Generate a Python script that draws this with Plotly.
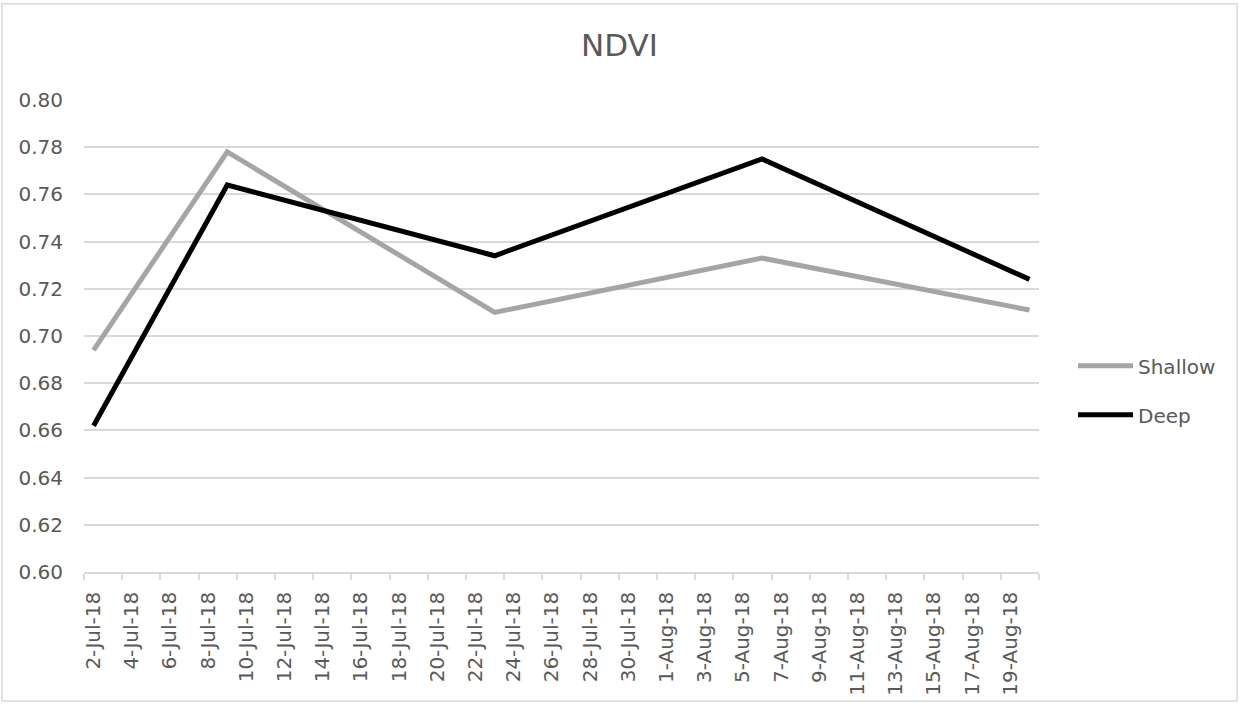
import plotly.graph_objects as go

# ---- data ----
dates = ["2018-07-02", "2018-07-09", "2018-07-23", "2018-08-06", "2018-08-20"]
shallow = [0.694, 0.778, 0.710, 0.733, 0.711]
deep = [0.662, 0.764, 0.734, 0.775, 0.724]

tick_dates = ["2018-07-02", "2018-07-04", "2018-07-06", "2018-07-08", "2018-07-10",
              "2018-07-12", "2018-07-14", "2018-07-16", "2018-07-18", "2018-07-20",
              "2018-07-22", "2018-07-24", "2018-07-26", "2018-07-28", "2018-07-30",
              "2018-08-01", "2018-08-03", "2018-08-05", "2018-08-07", "2018-08-09",
              "2018-08-11", "2018-08-13", "2018-08-15", "2018-08-17", "2018-08-19"]
tick_labels = ["2-Jul-18", "4-Jul-18", "6-Jul-18", "8-Jul-18", "10-Jul-18",
               "12-Jul-18", "14-Jul-18", "16-Jul-18", "18-Jul-18", "20-Jul-18",
               "22-Jul-18", "24-Jul-18", "26-Jul-18", "28-Jul-18", "30-Jul-18",
               "1-Aug-18", "3-Aug-18", "5-Aug-18", "7-Aug-18", "9-Aug-18",
               "11-Aug-18", "13-Aug-18", "15-Aug-18", "17-Aug-18", "19-Aug-18"]
y_ticks = [0.60, 0.62, 0.64, 0.66, 0.68, 0.70, 0.72, 0.74, 0.76, 0.78, 0.80]
y_labels = ["0.60", "0.62", "0.64", "0.66", "0.68", "0.70", "0.72", "0.74", "0.76", "0.78", "0.80"]

FONT = "DejaVu Sans"
TXT = "#595959"
GRID = "#d9d9d9"

W, H = 1239, 708
L, R, T, B = 84, 200, 100, 132
pw = W - L - R
ph = H - T - B

fig = go.Figure()
fig.add_trace(go.Scatter(x=dates, y=shallow, mode="lines", name="Shallow",
                         legendgroup="a",
                         line=dict(color="#a5a5a5", width=5)))
fig.add_trace(go.Scatter(x=dates, y=deep, mode="lines", name="Deep",
                         legendgroup="b",
                         line=dict(color="#000000", width=5)))

fig.update_layout(
    width=W, height=H,
    margin=dict(l=L, r=R, t=T, b=B),
    paper_bgcolor="white", plot_bgcolor="white",
    font=dict(family=FONT, color=TXT, size=20),
    title=dict(text="NDVI", x=0.5, xanchor="center", y=1 - 45 / H, yanchor="middle",
               font=dict(family=FONT, size=31, color=TXT)),
    showlegend=True,
    legend=dict(x=(1073 - L) / pw, xanchor="left", y=0.385, yanchor="middle",
                font=dict(family=FONT, size=20, color=TXT),
                traceorder="grouped", tracegroupgap=20, itemwidth=55,
                bgcolor="rgba(0,0,0,0)"),
    xaxis=dict(
        type="date",
        range=["2018-07-01 12:00", "2018-08-20 12:00"],
        tickmode="array", tickvals=tick_dates, ticktext=tick_labels,
        tickangle=-90, ticks="", ticklabelstandoff=10,
        tickfont=dict(family=FONT, size=20, color=TXT),
        showgrid=False, zeroline=False,
        showline=True, linecolor=GRID, linewidth=1.5,
        minor=dict(tickmode="linear", tick0="2018-07-01 12:00", dtick=2 * 86400000,
                   ticks="outside", ticklen=6, tickcolor=GRID, tickwidth=1.5,
                   showgrid=False),
    ),
    yaxis=dict(
        range=[0.60, 0.80],
        tickmode="array", tickvals=y_ticks, ticktext=y_labels,
        ticks="", ticklabelstandoff=20,
        tickfont=dict(family=FONT, size=20, color=TXT),
        showgrid=True, gridcolor=GRID, gridwidth=1.5,
        zeroline=False, showline=False,
    ),
    shapes=[dict(type="rect", xref="paper", yref="paper",
                 x0=(2 - L) / pw, x1=(1237 - L) / pw,
                 y0=-(706 - (T + ph)) / ph, y1=1 + (T - 3) / ph,
                 line=dict(color=GRID, width=1.5), fillcolor="rgba(0,0,0,0)",
                 layer="below")],
)

fig.write_html("out.html",
               config={"displayModeBar": False},
               post_script="document.body.style.margin='0';document.body.style.overflow='hidden';")
